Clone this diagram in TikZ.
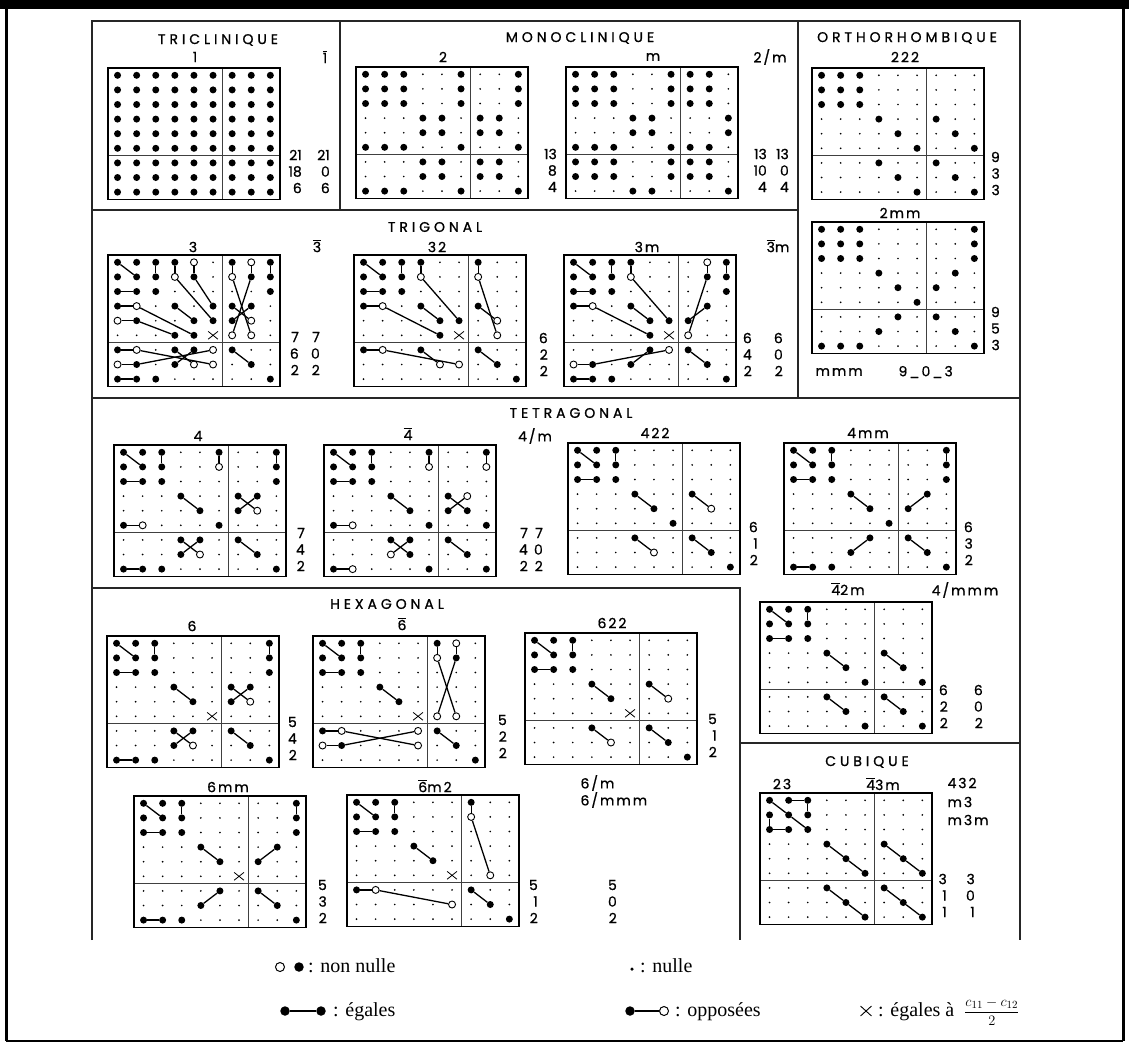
\documentclass[tikz,border=0pt]{standalone}
\usepackage{fontspec}
\setmainfont{Liberation Serif}
\newfontfamily\ttlfont[LetterSpace=28,FakeBold=1]{Poppins}
\newfontfamily\lblfont[LetterSpace=14,FakeBold=0.8]{Poppins}
\newfontfamily\numfont[FakeBold=0.8]{Poppins}
\usepackage{tikz}
\usetikzlibrary{shapes.misc}
\tikzset{
  ecb/.style={circle,fill=black,inner sep=0pt,minimum size=7pt},
  ecs/.style={circle,fill=black,inner sep=0pt,minimum size=1.9pt},
  eco/.style={circle,draw=black,fill=white,line width=0.9pt,inner sep=0pt,minimum size=7pt},
  ecx/.style={cross out,draw=black,line width=0.8pt,inner sep=0pt,minimum width=9pt,minimum height=7pt},
  lk/.style={line width=1.3pt,black},
  mframe/.style={line width=1.4pt},
  mdiv/.style={line width=0.9pt,black!75},
  secline/.style={line width=1.3pt,black!85},
  ttl/.style={font=\ttlfont\fontsize{14}{16}\selectfont},
  cls/.style={font=\lblfont\fontsize{14}{16}\selectfont},
  cnt/.style={font=\numfont\fontsize{14}{16}\selectfont,anchor=east,inner sep=0pt},
  lgb/.style={circle,fill=black,inner sep=0pt,minimum size=9.5pt},
  lgo/.style={circle,draw=black,fill=white,line width=1pt,inner sep=0pt,minimum size=9pt},
  lgtxt/.style={font=\fontsize{20}{23}\selectfont,anchor=base west,inner sep=0pt},
}
% one 9x9 table: rows of codes b (non nulle), s (nulle), o (opposee), x
\def\elcw{19.1}
\def\elch{14.6}
\newcount\elcol
\def\elgobble#1{}
\def\elfirst#1{#1}
\def\elput#1{\global\advance\elcol by 1
  \node[ec#1] (\elname-\elrownum-\the\elcol) at ({(\the\elcol-0.5)*\elcw},{(\elrownum-0.5)*\elch}) {};}
\def\elcell#1{\ifx#1\relax\expandafter\elgobble\else\expandafter\elfirst\fi{\elput#1\elcell}}
\newcommand\elrow[3]{\def\elname{#1}\def\elrownum{#2}\global\elcol=0 \expandafter\elcell#3\relax}
\newcommand\elmat[3]{%
  \begin{scope}[shift={#2}]
    \foreach \elcodes [count=\elr] in {#3} {\elrow{#1}{\elr}{\elcodes}}
    \draw[mdiv] (6*\elcw,0) -- (6*\elcw,9*\elch) (0,6*\elch) -- (9*\elcw,6*\elch);
    \draw[mframe] (0,0) rectangle (9*\elcw,9*\elch);
  \end{scope}}
\newcommand\elinks[2]{\foreach \ra/\ca/\rb/\cb in {#2} {\draw[lk] (#1-\ra-\ca) -- (#1-\rb-\cb);}}
\newcommand\elcount[6]{%
  \node[cnt] (#1-1) at (#2,#3) {#4};
  \node[cnt] (#1-2) at (#2,{#3+16.5}) {#5};
  \node[cnt] (#1-3) at (#2,{#3+33}) {#6};}
\newcommand\ovl[1]{$\overline{\hbox{#1}}$}

\begin{document}
\begin{tikzpicture}[x=1pt,y=-1pt]
  \useasboundingbox (0,0) rectangle (1129,1053);
  % page frame
  \fill (0,0) rectangle (1129,9);
  \draw[line width=3pt] (6,0) -- (6,1041);
  \draw[line width=3pt] (1123,0) -- (1123,1041);
  \draw[line width=1.5pt] (6,1041) -- (1123,1041);
  % sections
  \draw[secline] (92,940) -- (92,21) -- (1020,21) -- (1020,940);
  \draw[secline] (340,21) -- (340,210) (92,210) -- (798,210);
  \draw[secline] (798,21) -- (798,398) (92,398) -- (1020,398);
  \draw[secline] (92,588) -- (740,588) -- (740,940) (740,743) -- (1020,743);
  \node[ttl] (tTri) at (218,40) {TRICLINIQUE};
  \node[ttl] (tMon) at (580,38) {MONOCLINIQUE};
  \node[ttl] (tOrt) at (907,38) {ORTHORHOMBIQUE};
  \node[ttl] (tTrg) at (435,227) {TRIGONAL};
  \node[ttl] (tTet) at (571,413) {TETRAGONAL};
  \node[ttl] (tHex) at (387,604) {HEXAGONAL};
  \node[ttl] (tCub) at (867,762) {CUBIQUE};

  % triclinique, monoclinique, orthorhombique
  \elmat{tri1}{(108,68)}{bbbbbbbbb,bbbbbbbbb,bbbbbbbbb,bbbbbbbbb,bbbbbbbbb,bbbbbbbbb,bbbbbbbbb,bbbbbbbbb,bbbbbbbbb}
  \elmat{mon2}{(356,67)}{bbbssbssb,bbbssbssb,bbbssbssb,sssbbsbbs,sssbbsbbs,bbbssbssb,sssbbsbbs,sssbbsbbs,bbbssbssb}
  \elmat{monm}{(566,67)}{bbbssbbbs,bbbssbbbs,bbbssbbbs,sssbbsssb,sssbbsssb,bbbssbbbs,bbbssbbbs,bbbssbbbs,sssbbsssb}
  \elmat{ort222}{(812,68)}{bbbssssss,bbbssssss,bbbssssss,sssbssbss,ssssbssbs,sssssbssb,sssbssbss,ssssbssbs,sssssbssb}
  \elmat{ort2mm}{(812,222)}{bbbsssssb,bbbsssssb,bbbsssssb,sssbsssbs,ssssbsbss,sssssbsss,ssssbsbss,sssbsssbs,bbbsssssb}
  \node[cls] (lTri1) at (195,57) {1};
  \node[cls] (lTri1b) at (325,57) {\ovl{1}};
  \node[cls] (lMon2) at (443,57) {2};
  \node[cls] (lMonm) at (653,57) {m};
  \node[cls] (lMon2m) at (770,57) {2/m};
  \node[cls] (lOrt222) at (905,57) {222};
  \node[cls] (lOrt2mm) at (900,213) {2mm};
  \node[cls,anchor=west] (lOrtmmm) at (812,372) {mmm};
  \node[cls,anchor=west] (lOrtn) at (895,372) {9\_0\_3};
  \elcount{tri1a}{302}{155}{21}{18}{6}
  \elcount{tri1b}{330}{155}{21}{0}{6}
  \elcount{mon2a}{557}{154}{13}{8}{4}
  \elcount{monma}{767}{154}{13}{10}{4}
  \elcount{monmb}{789}{154}{13}{0}{4}
  \elcount{ort222a}{1000}{157}{9}{3}{3}
  \elcount{ort2mma}{1000}{312}{9}{5}{3}

  % trigonal
  \elmat{trg3}{(108,255)}{bbbbosbob,bbbobsobb,bbbsssssb,bosbsbbbs,obssbbbos,sssbbxoos,bosbbobss,obsboosbs,bbbsssssb}
  \elinks{trg3}{1/1/2/2,1/3/2/3,1/4/2/4,2/4/5/6,1/5/2/5,2/5/4/6,3/1/3/2,4/1/4/2,4/2/6/5,5/1/5/2,5/2/6/4,4/4/5/5,
    1/7/2/7,1/8/2/8,1/9/2/9,2/7/6/8,2/8/6/7,4/7/5/8,5/7/4/8,
    7/1/7/2,8/1/8/2,7/2/8/6,8/2/7/6,7/4/8/5,8/4/7/5,9/1/9/2,7/7/8/8}
  \elmat{trg32}{(354,255)}{bbbbssbss,bbbossoss,bbbssssss,bosbssbss,ssssbbsos,ssssbxsos,bosbssbss,ssssoosbs,ssssssssb}
  \elinks{trg32}{1/1/2/2,1/3/2/3,1/4/2/4,2/4/5/6,3/1/3/2,4/1/4/2,4/2/6/5,4/4/5/5,
    1/7/2/7,2/7/6/8,4/7/5/8,7/1/7/2,7/2/8/6,7/4/8/5,7/7/8/8}
  \elmat{trg3m}{(564,255)}{bbbbsssob,bbbosssbb,bbbsssssb,bosbsssbs,ssssbbbss,ssssbxoss,ssssbobss,obsbsssbs,bbbsssssb}
  \elinks{trg3m}{1/1/2/2,1/3/2/3,1/4/2/4,2/4/5/6,3/1/3/2,4/1/4/2,4/2/6/5,4/4/5/5,
    1/8/2/8,1/9/2/9,2/8/6/7,4/8/5/7,8/1/8/2,8/2/7/6,8/4/7/5,9/1/9/2,7/7/8/8}
  \node[cls] (lTrg3) at (193,247) {3};
  \node[cls] (lTrg3b) at (317,246) {\ovl{3}};
  \node[cls] (lTrg32) at (437,247) {32};
  \node[cls] (lTrg3m) at (647,247) {3m};
  \node[cls] (lTrg3bm) at (778,246) {\ovl{3}m};
  \elcount{trg3a}{299}{337}{7}{6}{2}
  \elcount{trg3b}{320}{337}{7}{0}{2}
  \elcount{trg32a}{548}{338}{6}{2}{2}
  \elcount{trg3ma}{752}{338}{6}{4}{2}
  \elcount{trg3mb}{783}{338}{6}{0}{2}

  % tetragonal
  \elmat{tet4}{(114,445)}{bbbssbssb,bbbssossb,bbbsssssb,sssbssbbs,ssssbsbos,bosssbsss,sssbbsbss,sssbossbs,bbbsssssb}
  \elinks{tet4}{1/1/2/2,1/3/2/3,1/6/2/6,3/1/3/2,4/4/5/5,6/1/6/2,1/9/2/9,4/7/5/8,5/7/4/8,7/4/8/5,8/4/7/5,7/7/8/8,9/1/9/2}
  \elmat{tet4b}{(324,445)}{bbbssbssb,bbbssosso,bbbssssss,sssbssbos,ssssbsbbs,bosssbssb,sssbbsbss,sssobssbs,bosssbssb}
  \elinks{tet4b}{1/1/2/2,1/3/2/3,1/6/2/6,3/1/3/2,4/4/5/5,6/1/6/2,1/9/2/9,4/7/5/8,5/7/4/8,7/4/8/5,8/4/7/5,7/7/8/8,9/1/9/2}
  \elmat{tet422}{(568,443)}{bbbssssss,bbbssssss,bbbssssss,sssbssbss,ssssbssos,sssssbsss,sssbssbss,ssssossbs,ssssssssb}
  \elinks{tet422}{1/1/2/2,1/3/2/3,3/1/3/2,4/4/5/5,4/7/5/8,7/4/8/5,7/7/8/8}
  \elmat{tet4mm}{(784,443)}{bbbsssssb,bbbsssssb,bbbsssssb,sssbsssbs,ssssbsbss,sssssbsss,ssssbsbss,sssbsssbs,bbbsssssb}
  \elinks{tet4mm}{1/1/2/2,1/3/2/3,3/1/3/2,4/4/5/5,1/9/2/9,4/8/5/7,8/4/7/5,7/7/8/8,9/1/9/2}
  \elmat{tet42m}{(760,602)}{bbbssssss,bbbssssss,bbbssssss,sssbssbss,ssssbssbs,sssssbssb,sssbssbss,ssssbssbs,sssssbssb}
  \elinks{tet42m}{1/1/2/2,1/3/2/3,3/1/3/2,4/4/5/5,4/7/5/8,7/4/8/5,7/7/8/8}
  \node[cls] (lTet4) at (198,436) {4};
  \node[cls] (lTet4b) at (408,434) {\ovl{4}};
  \node[cls] (lTet4m) at (535,436) {4/m};
  \node[cls] (lTet422) at (655,433) {422};
  \node[cls] (lTet4mm) at (868,433) {4mm};
  \node[cls] (lTet42m) at (848,589) {\ovl{4}2m};
  \node[cls] (lTet4mmm) at (965,590) {4/mmm};
  \elcount{tet4a}{305}{533}{7}{4}{2}
  \elcount{tet4ba}{528}{533}{7}{4}{2}
  \elcount{tet4bb}{543}{533}{7}{0}{2}
  \elcount{tet422a}{758}{527}{6}{1}{2}
  \elcount{tet4mma}{973}{527}{6}{3}{2}
  \elcount{tet42ma}{948}{690}{6}{2}{2}
  \elcount{tet42mb}{983}{690}{6}{0}{2}

  % hexagonal
  \elmat{hex6}{(107,636)}{bbbsssssb,bbbsssssb,bbbsssssb,sssbssbbs,ssssbsbos,sssssxsss,sssbbsbss,sssbossbs,bbbsssssb}
  \elinks{hex6}{1/1/2/2,1/3/2/3,3/1/3/2,4/4/5/5,1/9/2/9,4/7/5/8,5/7/4/8,7/4/8/5,8/4/7/5,7/7/8/8,9/1/9/2}
  \elmat{hex6b}{(313,636)}{bbbsssbos,bbbsssobs,bbbssssss,sssbsssss,ssssbssss,sssssxoos,bosssobss,obsssosbs,ssssssssb}
  \elinks{hex6b}{1/1/2/2,1/3/2/3,3/1/3/2,4/4/5/5,1/7/2/7,1/8/2/8,2/7/6/8,2/8/6/7,7/1/7/2,8/1/8/2,7/2/8/6,8/2/7/6,7/7/8/8}
  \elmat{hex622}{(525,633)}{bbbssssss,bbbssssss,bbbssssss,sssbssbss,ssssbssos,sssssxsss,sssbssbss,ssssossbs,ssssssssb}
  \elinks{hex622}{1/1/2/2,1/3/2/3,3/1/3/2,4/4/5/5,4/7/5/8,7/4/8/5,7/7/8/8}
  \elmat{hex6mm}{(134,796)}{bbbsssssb,bbbsssssb,bbbsssssb,sssbsssbs,ssssbsbss,sssssxsss,ssssbsbss,sssbsssbs,bbbsssssb}
  \elinks{hex6mm}{1/1/2/2,1/3/2/3,3/1/3/2,4/4/5/5,1/9/2/9,4/8/5/7,8/4/7/5,7/7/8/8,9/1/9/2}
  \elmat{hex6m2}{(347,795)}{bbbsssbss,bbbsssoss,bbbssssss,sssbsssss,ssssbssss,sssssxsos,bossssbss,sssssosbs,ssssssssb}
  \elinks{hex6m2}{1/1/2/2,1/3/2/3,3/1/3/2,4/4/5/5,1/7/2/7,2/7/6/8,7/1/7/2,7/2/8/6,7/7/8/8}
  \node[cls] (lHex6) at (192,626) {6};
  \node[cls] (lHex6b) at (402,624) {\ovl{6}};
  \node[cls] (lHex622) at (612,623) {622};
  \node[cls] (lHex6mm) at (228,787) {6mm};
  \node[cls] (lHex6bm2) at (435,786) {\ovl{6}m2};
  \node[cls,anchor=west] (lHex6m) at (577,783) {6/m};
  \node[cls,anchor=west] (lHex6mmm) at (577,800) {6/mmm};
  \elcount{hex6a}{297}{722}{5}{4}{2}
  \elcount{hex6ba}{507}{720}{5}{2}{2}
  \elcount{hex622a}{717}{719}{5}{1}{2}
  \elcount{hex6mma}{327}{885}{5}{3}{2}
  \elcount{hex6m2a}{538}{885}{5}{1}{2}
  \elcount{hex6m2b}{617}{885}{5}{0}{2}

  % cubique
  \elmat{cub}{(760,793)}{bbbssssss,bbbssssss,bbbssssss,sssbssbss,ssssbssbs,sssssbssb,sssbssbss,ssssbssbs,sssssbssb}
  \elinks{cub}{1/1/2/2,2/2/3/3,1/2/1/3,1/3/2/3,2/1/3/1,3/1/3/2,4/4/5/5,5/5/6/6,4/7/5/8,5/8/6/9,7/4/8/5,8/5/9/6,7/7/8/8,8/8/9/9}
  \node[cls] (lCub23) at (782,784) {23};
  \node[cls] (lCub43m) at (883,784) {\ovl{4}3m};
  \node[cls,anchor=west] (lCub432) at (944,783) {432};
  \node[cls,anchor=west] (lCubm3) at (944,802) {m3};
  \node[cls,anchor=west] (lCubm3m) at (944,820) {m3m};
  \elcount{cuba}{947}{879}{3}{1}{1}
  \elcount{cubb}{975}{879}{3}{0}{1}

  % legende
  \node[lgo] (lgA) at (280,967) {};
  \node[lgb] (lgB) at (299,967) {};
  \node[lgtxt] (lgBt) at (308,972) {: non nulle};
  \node[ecs,minimum size=3.5pt] (lgC) at (632,969) {};
  \node[lgtxt] (lgCt) at (640,972) {: nulle};
  \node[lgb] (lgD) at (285,1011) {};
  \node[lgb] (lgE) at (321,1011) {};
  \draw[lk] (lgD) -- (lgE);
  \node[lgtxt] (lgEt) at (333,1016) {: égales};
  \node[lgb] (lgF) at (630,1011) {};
  \node[lgo] (lgG) at (664,1011) {};
  \draw[lk] (lgF) -- (lgG);
  \node[lgtxt] (lgGt) at (675,1016) {: opposées};
  \node[ecx,minimum width=10pt,minimum height=9pt,line width=0.9pt] (lgH) at (866,1011) {};
  \node[lgtxt] (lgHt) at (878,1016) {: égales à\enspace{\fontsize{15}{18}\selectfont$\displaystyle\frac{c_{11}-c_{12}}{2}$}};
\end{tikzpicture}
\end{document}
